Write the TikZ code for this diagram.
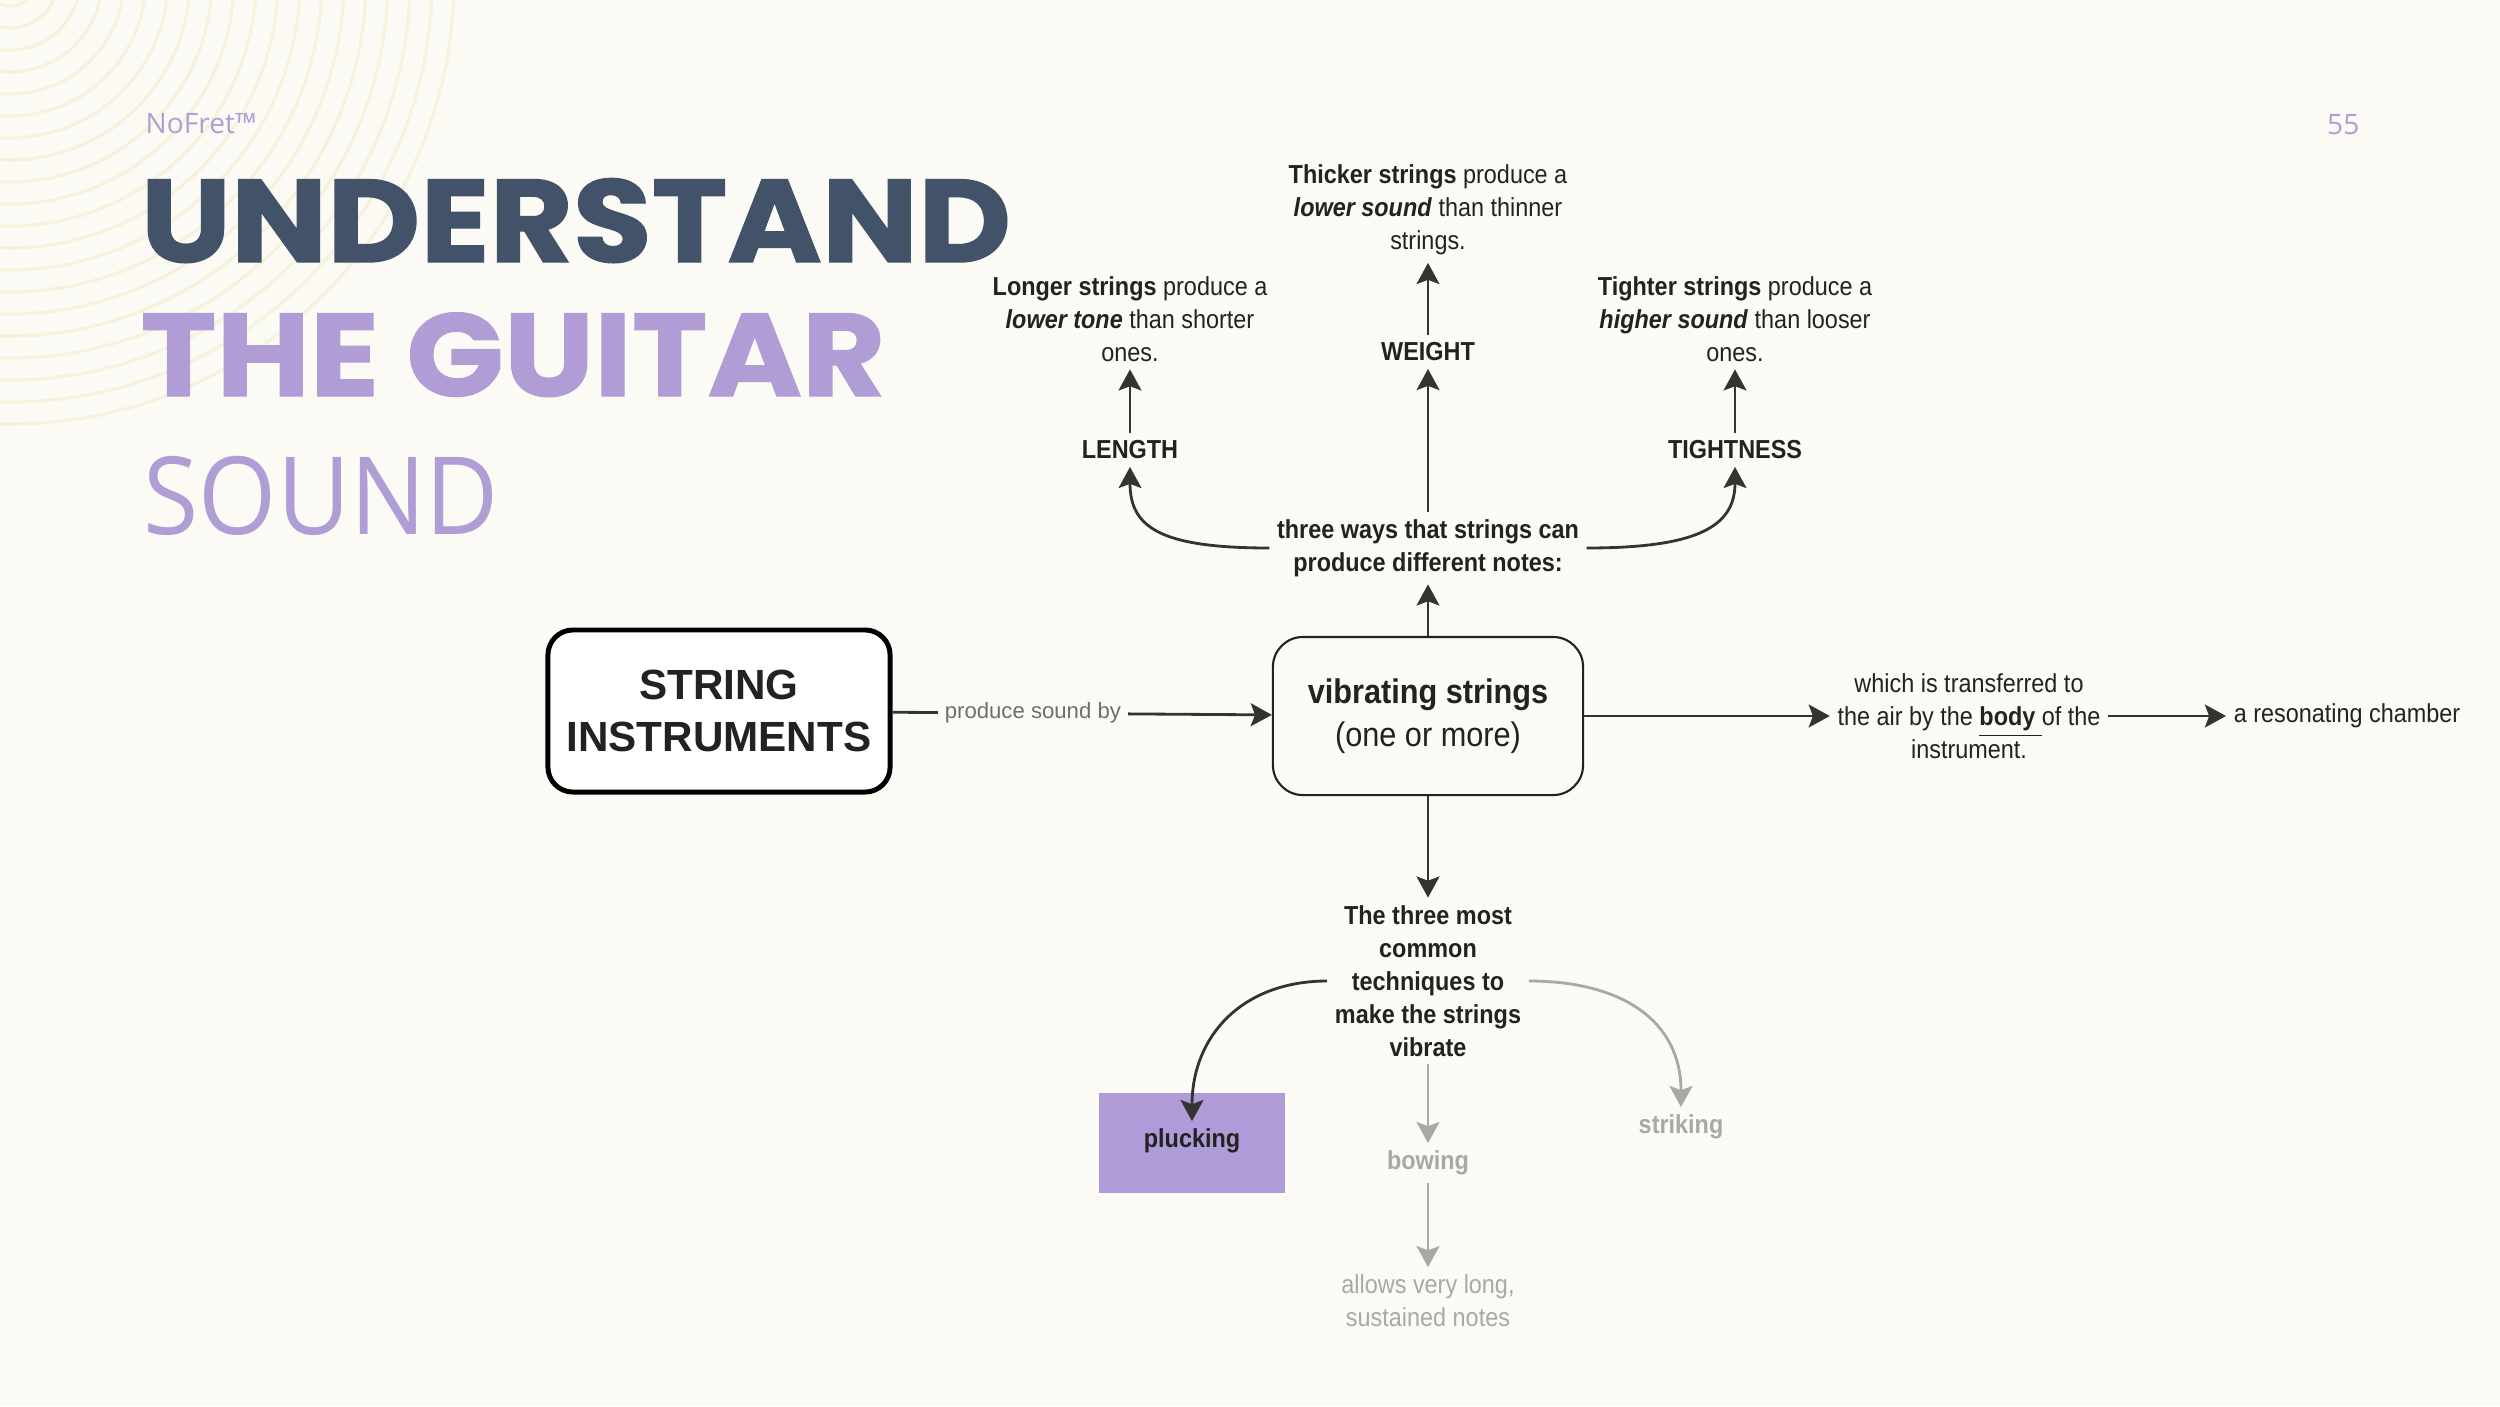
\documentclass[tikz,border=0pt]{standalone}
\usepackage{fontspec}
\setmainfont{Liberation Sans}
\newfontfamily\condFont[FakeStretch=0.9]{Liberation Sans}
\newfontfamily\titleFont[FakeStretch=1.09, FakeBold=1.2]{Poppins}
\newfontfamily\thinFont{Open Sans}
\newfontfamily\soundFont[FakeStretch=0.93]{Open Sans}
\usetikzlibrary{arrows.meta}
\definecolor{bgColor}{RGB}{252,250,245}
\definecolor{ringColor}{RGB}{246,242,220}
\definecolor{titleDark}{RGB}{66,82,105}
\definecolor{titlePurple}{RGB}{177,157,214}
\definecolor{pluckFill}{RGB}{174,155,216}
\definecolor{textDark}{RGB}{34,34,34}
\definecolor{lineDark}{RGB}{51,51,51}
\definecolor{lineGray}{RGB}{168,168,168}
\definecolor{labelGray}{RGB}{110,110,110}
\newcommand{\smallText}{\condFont\fontsize{7.4}{9.4}\selectfont}
\tikzstyle{ringLine} = [draw=ringColor, line width=0.9pt]
\tikzstyle{titleStyle} = [font=\titleFont\bfseries\fontsize{33.4}{36}\selectfont, inner sep=0pt]
\tikzstyle{soundStyle} = [font=\soundFont\fontsize{30.7}{34}\selectfont, text=titlePurple, inner sep=0pt]
\tikzstyle{brandStyle} = [font=\thinFont\fontsize{8}{10}\selectfont, text=titlePurple, inner sep=0pt]
\tikzstyle{textNode} = [font=\smallText, text=textDark, align=center, inner sep=2pt]
\tikzstyle{boldNode} = [textNode, font=\smallText\bfseries]
\tikzstyle{grayNode} = [textNode, text=lineGray]
\tikzstyle{grayBoldNode} = [boldNode, text=lineGray]
\tikzstyle{instrumentBox} = [draw=black, fill=white, line width=1.4pt, rounded corners=0.25cm, minimum width=3.42cm, minimum height=1.62cm, align=center, text=textDark, font=\rmfamily\bfseries\fontsize{12}{15}\selectfont]
\tikzstyle{vibrateBox} = [draw=textDark, fill=bgColor, line width=0.6pt, rounded corners=0.3cm, minimum width=3.1cm, minimum height=1.58cm, align=center, text=textDark, font=\condFont\fontsize{9.7}{12.2}\selectfont]
\tikzstyle{edgeLabel} = [font=\rmfamily\fontsize{6.3}{8}\selectfont, text=labelGray, fill=bgColor, inner sep=2pt]
\tikzstyle{arrowLine} = [draw=lineDark, line width=0.8pt, -{Stealth[length=6pt, width=6.5pt, inset=1.2pt]}]
\tikzstyle{grayArrow} = [arrowLine, draw=lineGray, -{Stealth[length=6pt, width=6.5pt, inset=1.2pt, color=lineGray]}]

\begin{document}
\begin{tikzpicture}[x=0.01cm, y=-0.01cm]
  \useasboundingbox (0,0) rectangle (2500,1406);
  \fill[bgColor] (0,0) rectangle (2500,1406);

  % faint rings in the corner
  \begin{scope}
    \clip (0,0) rectangle (2500,1406);
    \foreach \r in {26,48,...,450} {
      \draw[ringLine] (10,-20) circle[radius=\r];
    }
  \end{scope}

  % heading
  \node[brandStyle, anchor=base west] (brand) at (145,133) {NoFret™};
  \node[brandStyle, anchor=base east] (pageNumber) at (2360,134) {55};
  \node[titleStyle, text=titleDark, anchor=base west] (understand) at (140,262) {UNDERSTAND};
  \node[titleStyle, text=titlePurple, anchor=base west] (guitar) at (140,396) {THE GUITAR};
  \node[soundStyle, anchor=base west] (sound) at (143,534) {SOUND};

  % main row
  \node[instrumentBox] (instruments) at (719,711) {STRING\\INSTRUMENTS};
  \node[vibrateBox] (vibrating) at (1428,716) {\textbf{vibrating strings}\\(one or more)};
  \node[textNode] (transfer) at (1969,716) {which is transferred to\\the air by the \underline{\textbf{body}\ }of the\\instrument.};
  \node[textNode] (chamber) at (2347,716) {a resonating chamber};

  % three ways
  \node[boldNode] (ways) at (1428,548) {three ways that strings can\\produce different notes:};
  \node[boldNode] (length) at (1130,450) {LENGTH};
  \node[boldNode] (weight) at (1428,352) {WEIGHT};
  \node[boldNode] (tightness) at (1735,450) {TIGHTNESS};
  \node[textNode] (longer) at (1130,319) {\textbf{Longer strings} produce a\\\textbf{\textit{lower tone}} than shorter\\ones.};
  \node[textNode] (thicker) at (1428,210) {\textbf{Thicker strings} produce a\\\textbf{\textit{lower sound}} than thinner\\strings.};
  \node[textNode] (tighter) at (1735,319) {\textbf{Tighter strings} produce a\\\textbf{\textit{higher sound}} than looser\\ones.};

  % techniques
  \node[boldNode] (techniques) at (1428,981) {The three most\\common\\techniques to\\make the strings\\vibrate};
  \node[fill=pluckFill, minimum width=1.86cm, minimum height=1cm] (pluckBox) at (1192,1143) {};
  \node[boldNode] (plucking) at (1192,1141) {plucking};
  \node[grayBoldNode] (bowing) at (1428,1163) {bowing};
  \node[grayBoldNode] (striking) at (1681,1127) {striking};
  \node[grayNode] (sustained) at (1428,1301) {allows very long,\\sustained notes};

  % connectors
  \draw[arrowLine] (instruments) -- node[edgeLabel, pos=0.37] {produce sound by} (vibrating);
  \draw[arrowLine] (vibrating) -- (transfer);
  \draw[arrowLine] (transfer) -- (chamber);
  \draw[arrowLine] (vibrating) -- (ways);
  \draw[arrowLine] (ways) -- (weight);
  \draw[arrowLine] (ways.west) .. controls +(-110,0) and +(0,60) .. (length.south);
  \draw[arrowLine] (ways.east) .. controls +(110,0) and +(0,60) .. (tightness.south);
  \draw[arrowLine] (length) -- (longer);
  \draw[arrowLine] (weight) -- (thicker);
  \draw[arrowLine] (tightness) -- (tighter);
  \draw[arrowLine] (vibrating) -- (techniques);
  \draw[arrowLine] (techniques.west) .. controls +(-85,0) and +(0,-85) .. (plucking.north);
  \draw[grayArrow] (techniques.east) .. controls +(95,0) and +(0,-85) .. (striking.north);
  \draw[grayArrow] (techniques) -- (bowing);
  \draw[grayArrow] (bowing) -- (sustained);
\end{tikzpicture}
\end{document}
